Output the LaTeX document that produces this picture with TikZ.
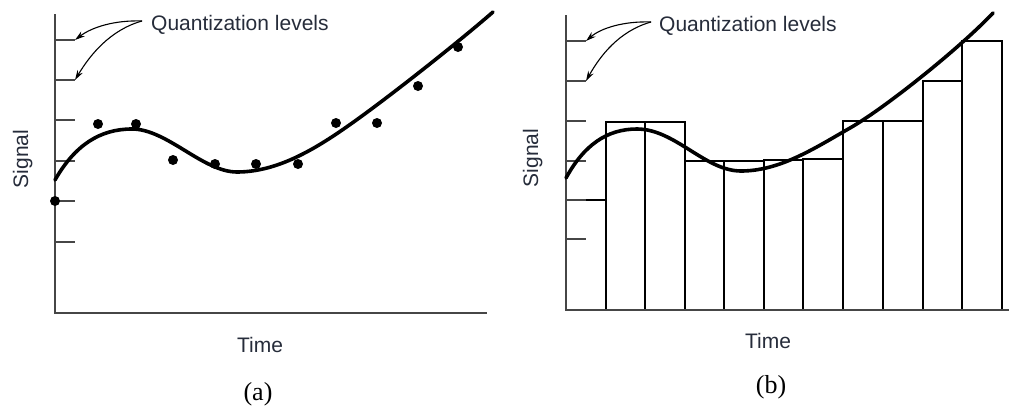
\documentclass[tikz,border=0pt]{standalone}
\usepackage{fontspec}
\setmainfont{Liberation Sans}
\newfontfamily\capfont{Liberation Serif}
\usetikzlibrary{arrows.meta}
\definecolor{textcol}{RGB}{38,44,58}
\definecolor{axisgray}{RGB}{70,70,70}
\tikzset{
  axisline/.style={draw=axisgray, line width=1.6pt},
  tickline/.style={draw=axisgray, line width=1.6pt},
  signal/.style={draw=black, line width=3.6pt, line cap=round},
  bar/.style={draw=black, line width=1.6pt},
  sample/.style={circle, fill=black, inner sep=0pt, minimum size=10pt},
  lbl/.style={font=\fontsize{21}{24}\selectfont, text=textcol, inner sep=0pt},
  caplbl/.style={font=\capfont\fontsize{26}{30}\selectfont, text=black, inner sep=0pt},
  pointer/.style={draw=black, line width=1.1pt, -{Stealth[length=10pt,width=6pt]}}
}
\begin{document}
\begin{tikzpicture}[x=1pt,y=-1pt]
\useasboundingbox (0,0) rectangle (1009,405);
% ---------------- panel (a) ----------------
\draw[axisline] (55,14) -- (55,313) -- (487,313);
\foreach \yy/\nm in {40/a1,80/a2,120/a3,161/a4,201/a5,242/a6}
  \draw[tickline] (55,\yy) -- (75,\yy) coordinate (t\nm);
\draw[signal] (55,180) .. controls (75,145) and (100,129) .. (132,129)
  .. controls (167,129) and (203,172) .. (237,172)
  .. controls (280,172) and (320,146) .. (355,121)
  .. controls (390,96) and (455,45) .. (493,12);
\foreach \xx/\yy/\nm in {55/201/1,98/124/2,136/124/3,173/160/4,215/164/5,256/164/6,298/164/7,336/123/8,377/123/9,418/86/10,458/47/11}
  \node[sample] (s\nm) at (\xx,\yy) {};
\node[lbl, anchor=base west] (qa) at (151,30) {Quantization levels};
\coordinate (qao) at (142,21);
\draw[pointer] (qao) .. controls (115,20) and (92,27) .. (ta1);
\draw[pointer] (qao) .. controls (110,30) and (90,55) .. (ta2);
\node[lbl, rotate=90, anchor=base] (siga) at (28,159) {Signal};
\node[lbl, anchor=base] (timea) at (260,352) {Time};
\node[caplbl, anchor=base] (capa) at (258,400) {(a)};
% ---------------- panel (b) ----------------
\foreach \xl/\xr/\top/\nm in {566/606/200/1,606/645/122/2,645/685/122/3,685/724/161/4,724/764/161/5,764/803/160/6,803/843/159/7,843/883/121/8,883/923/121/9,923/962/81/10,962/1002/41/11}
  \draw[bar] (\xl,310) rectangle (\xr,\top) coordinate (b\nm);
\draw[axisline] (566,15) -- (566,310) -- (1009,310);
\foreach \yy/\nm in {41/b1,81/b2,121/b3,161/b4,200/b5,239/b6}
  \draw[tickline] (566,\yy) -- (586,\yy) coordinate (t\nm);
\draw[signal] (566,178) .. controls (584,145) and (607,129) .. (637,129)
  .. controls (675,129) and (705,171) .. (741,171)
  .. controls (780,171) and (815,148) .. (850,128)
  .. controls (885,108) and (960,48) .. (993,13);
\node[lbl, anchor=base west] (qb) at (659,31) {Quantization levels};
\coordinate (qbo) at (651,22);
\draw[pointer] (qbo) .. controls (624,21) and (601,28) .. (tb1);
\draw[pointer] (qbo) .. controls (619,31) and (600,56) .. (tb2);
\node[lbl, rotate=90, anchor=base] (sigb) at (538,158) {Signal};
\node[lbl, anchor=base] (timeb) at (768,348) {Time};
\node[caplbl, anchor=base] (capb) at (771,393) {(b)};
\end{tikzpicture}
\end{document}
